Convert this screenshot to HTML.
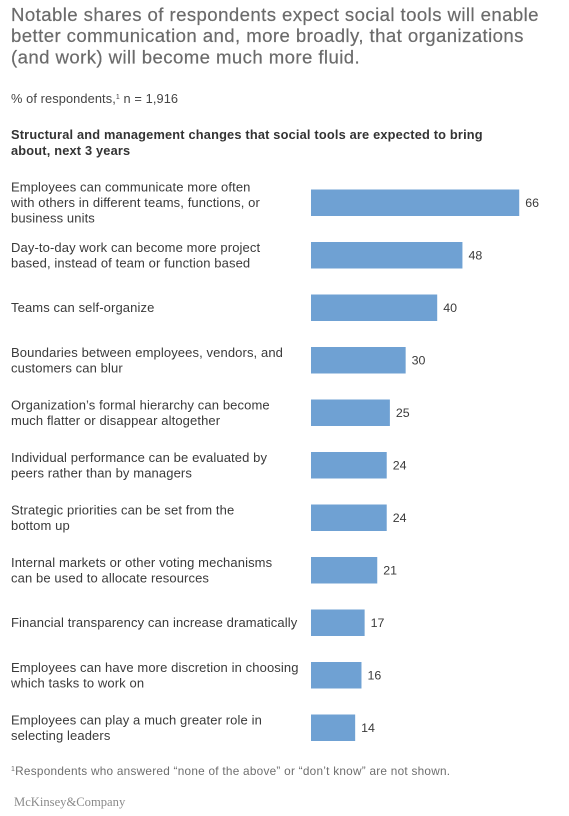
<!DOCTYPE html>
<html lang="en">
<head>
<meta charset="utf-8">
<title>Structural and management changes from social tools</title>
<style>
html,body{margin:0;padding:0;background:#fff;width:569px;height:816px;overflow:hidden}
svg{display:block;font-family:"Liberation Sans",Arial,sans-serif}
</style>
</head>
<body>
<svg id="chart" width="569" height="816" viewBox="0 0 569 816" xmlns="http://www.w3.org/2000/svg">
  <g fill="#6b6b6b" font-size="18.6" letter-spacing="0.42" stroke="#6b6b6b" stroke-width="0.2">
    <text x="11" y="21">Notable shares of respondents expect social tools will enable</text>
    <text x="11" y="42">better communication and, more broadly, that organizations</text>
    <text x="11" y="63.5">(and work) will become much more fluid.</text>
  </g>
  <text x="11" y="103" font-size="12.8" letter-spacing="0.1" fill="#444">% of respondents,<tspan font-size="7" dy="-4">1</tspan><tspan dy="4"> n = 1,916</tspan></text>
  <g fill="#333" font-size="12.8" letter-spacing="0.18" font-weight="bold">
    <text x="11" y="139">Structural and management changes that social tools are expected to bring</text>
    <text x="11" y="155">about, next 3 years</text>
  </g>
  <g id="rows"></g>
  <text x="11" y="775" font-size="11.8" fill="#6e6e6e" letter-spacing="0.25"><tspan font-size="7" dy="-4">1</tspan><tspan dy="4">Respondents who answered “none of the above” or “don’t know” are not shown.</tspan></text>
  <text x="14" y="806" font-size="12.6" fill="#8a8a8a" style="font-family:'Liberation Serif',serif">McKinsey&amp;Company</text>
</svg>
<script>
const categories = [
  ["Employees can communicate more often", "with others in different teams, functions, or", "business units"],
  ["Day-to-day work can become more project", "based, instead of team or function based"],
  ["Teams can self-organize"],
  ["Boundaries between employees, vendors, and", "customers can blur"],
  ["Organization’s formal hierarchy can become", "much flatter or disappear altogether"],
  ["Individual performance can be evaluated by", "peers rather than by managers"],
  ["Strategic priorities can be set from the", "bottom up"],
  ["Internal markets or other voting mechanisms", "can be used to allocate resources"],
  ["Financial transparency can increase dramatically"],
  ["Employees can have more discretion in choosing", "which tasks to work on"],
  ["Employees can play a much greater role in", "selecting leaders"]
];
const values = [66, 48, 40, 30, 25, 24, 24, 21, 17, 16, 14];

const NS = "http://www.w3.org/2000/svg";
const rows = document.getElementById("rows");
function xScale(v) { return 311 + v * 3.155; }
function yBand(i) { return 189.5 + i * 52.5; }
const barHeight = 26.5;
const lineGap = 15.6;

categories.forEach(function (lines, i) {
  const cy = yBand(i) + barHeight / 2;

  const label = document.createElementNS(NS, "text");
  
  
  label.setAttribute("font-size", "13");
  label.setAttribute("letter-spacing", "0.11");
  label.setAttribute("fill", "#3a3a3a");
  lines.forEach(function (line, j) {
    const t = document.createElementNS(NS, "tspan");
    t.setAttribute("x", "11");
    t.setAttribute("y", cy + 4.3 + (j - (lines.length - 1) / 2) * lineGap);
    t.textContent = line;
    label.appendChild(t);
  });
  rows.appendChild(label);

  const bar = document.createElementNS(NS, "rect");
  
  
  bar.setAttribute("x", xScale(0));
  bar.setAttribute("y", yBand(i));
  bar.setAttribute("width", xScale(values[i]) - xScale(0));
  bar.setAttribute("height", barHeight);
  bar.setAttribute("fill", "#6fa1d3");
  rows.appendChild(bar);

  const val = document.createElementNS(NS, "text");
  
  
  val.setAttribute("x", xScale(values[i]) + 6);
  val.setAttribute("y", cy + 4);
  val.setAttribute("font-size", "12.4");
  val.setAttribute("fill", "#3a3a3a");
  val.textContent = values[i];
  rows.appendChild(val);
});
</script>
</body>
</html>
